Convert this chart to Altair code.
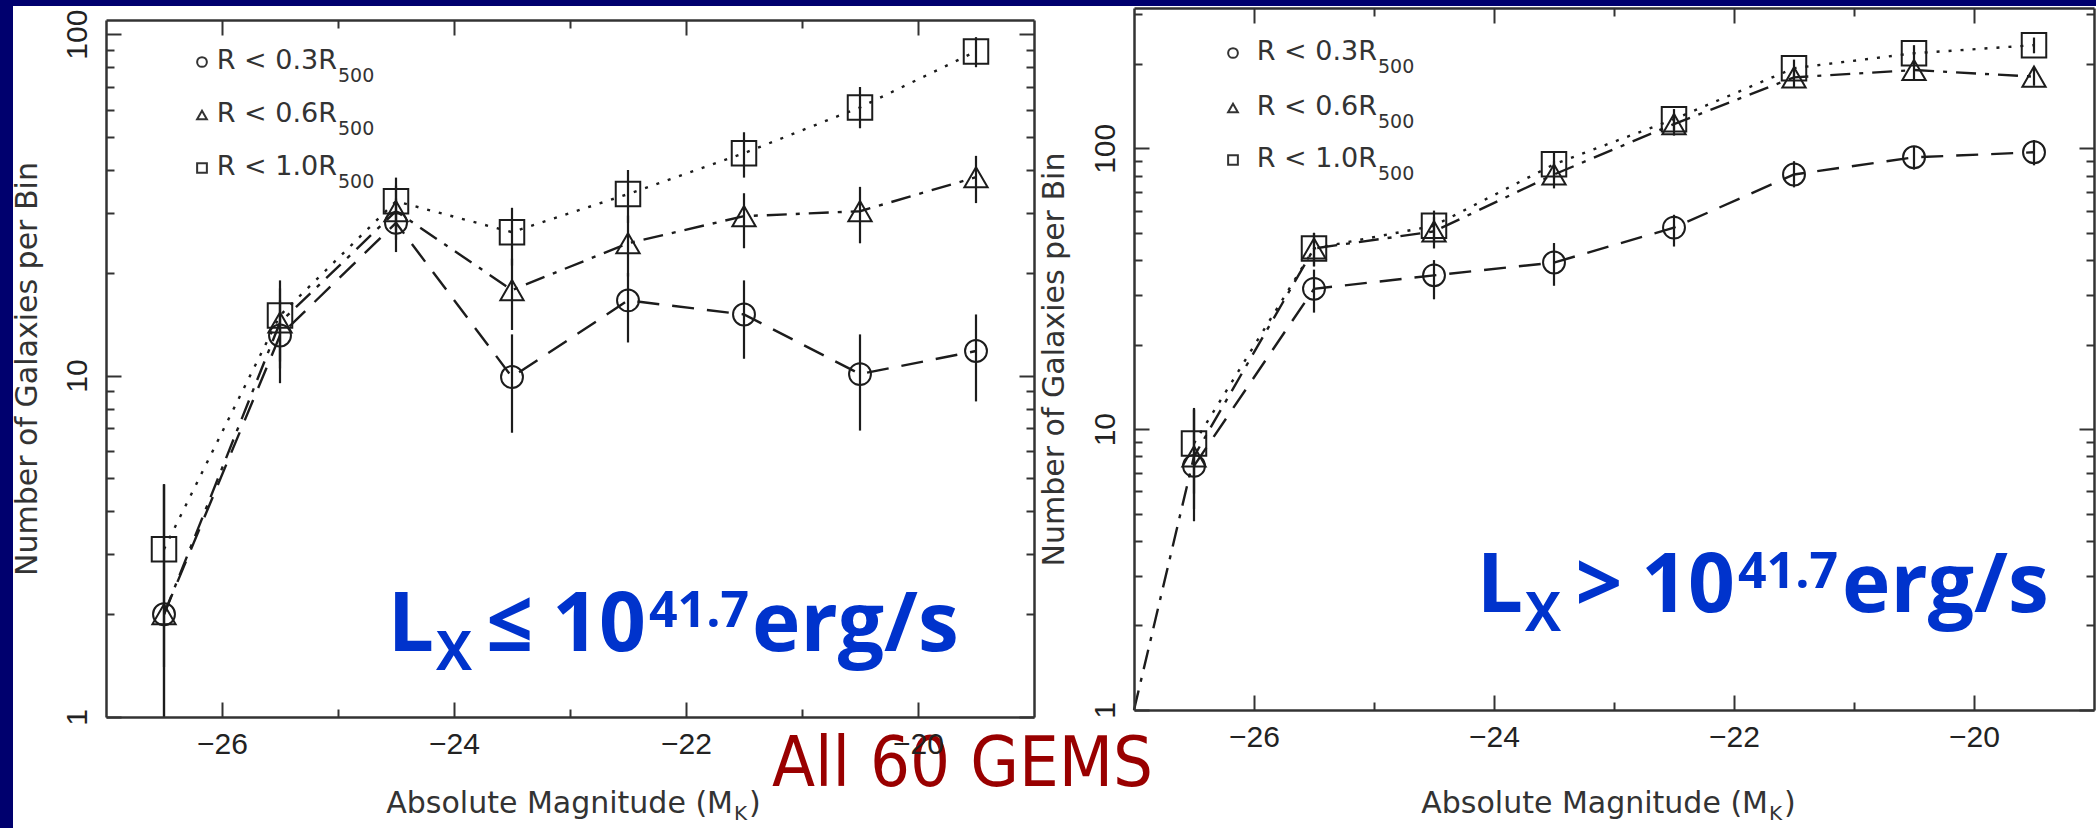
import altair as alt
import pandas as pd

# ---------------- data ----------------
MAG = [-26.5, -25.5, -24.5, -23.5, -22.5, -21.5, -20.5, -19.5]
SERIES = ["R < 0.3R500", "R < 0.6R500", "R < 1.0R500"]
LEGEND_MAIN = ["R < 0.3R", "R < 0.6R", "R < 1.0R"]
LEGEND_SUB = "500"

# Left panel : L_X <= 10^41.7 erg/s
LO_R03 = [2.0, 13.1, 28.0, 9.9, 16.6, 15.1, 10.1, 11.8]
LO_R03_MIN = [0.6, 9.5, 23.0, 6.8, 12.5, 11.2, 6.9, 8.4]
LO_R03_MAX = [4.8, 16.6, 33.0, 13.2, 20.0, 19.0, 13.2, 15.1]
LO_R06 = [2.0, 14.3, 30.3, 17.8, 24.4, 29.3, 30.3, 38.1]
LO_R06_MIN = [0.6, 10.5, 25.0, 13.6, 19.5, 23.6, 24.4, 32.0]
LO_R06_MAX = [4.8, 18.0, 36.0, 22.0, 29.4, 34.2, 35.7, 44.0]
LO_R10 = [3.1, 15.0, 32.4, 26.3, 34.0, 44.8, 61.0, 89.0]
LO_R10_MIN = [1.4, 11.0, 26.7, 21.0, 28.0, 38.0, 53.0, 80.0]
LO_R10_MAX = [4.8, 19.0, 38.0, 31.0, 40.0, 51.6, 70.0, 98.0]

# Right panel : L_X > 10^41.7 erg/s
HI_R03 = [7.4, 31.6, 35.3, 39.2, 52.2, 80.7, 92.9, 96.8]
HI_R03_MIN = [4.7, 26.0, 29.0, 32.4, 44.7, 72.6, 84.0, 87.0]
HI_R03_MAX = [11.7, 37.0, 40.0, 46.0, 58.0, 90.0, 102.0, 107.0]
HI_R06 = [8.0, 44.0, 50.6, 80.7, 122.0, 179.0, 190.0, 180.0]
HI_R06_MIN = [5.2, 38.0, 44.0, 72.0, 111.0, 165.0, 176.0, 167.0]
HI_R06_MAX = [11.8, 50.0, 57.0, 90.0, 133.0, 193.0, 204.0, 193.0]
HI_R10 = [8.9, 44.0, 53.0, 87.7, 127.0, 193.0, 218.0, 233.0]
HI_R10_MIN = [5.9, 38.0, 46.0, 78.0, 116.0, 179.0, 203.0, 218.0]
HI_R10_MAX = [11.9, 50.0, 60.0, 97.0, 138.0, 207.0, 233.0, 248.0]
# faint bin below the plotted range (only its connecting line shows)
HI_R06_EDGE_MAG = -27.5
HI_R06_EDGE_VAL = 0.04

X_MAJOR = [-26, -24, -22, -20]
X_ALL = [-26, -25, -24, -23, -22, -21, -20]
Y_MAJOR = [1, 10, 100]
Y_MINOR_L = [2, 3, 4, 5, 6, 7, 8, 9, 20, 30, 40, 50, 60, 70, 80, 90]
Y_MINOR_R = [2, 3, 4, 5, 6, 7, 8, 9, 20, 30, 40, 50, 60, 70, 80, 90, 200, 300]


def long_df(vals, los, his):
    rows = []
    for s, v, lo, hi in zip(SERIES, vals, los, his):
        for m, a, b, c in zip(MAG, v, lo, hi):
            rows.append({"mag": m, "n": a, "lo": b, "hi": c, "series": s})
    return pd.DataFrame(rows)


df_left = long_df([LO_R03, LO_R06, LO_R10],
                  [LO_R03_MIN, LO_R06_MIN, LO_R10_MIN],
                  [LO_R03_MAX, LO_R06_MAX, LO_R10_MAX])
df_right = long_df([HI_R03, HI_R06, HI_R10],
                   [HI_R03_MIN, HI_R06_MIN, HI_R10_MIN],
                   [HI_R03_MAX, HI_R06_MAX, HI_R10_MAX])
df_right = pd.concat([df_right, pd.DataFrame([{
    "mag": HI_R06_EDGE_MAG, "n": HI_R06_EDGE_VAL, "lo": None, "hi": None,
    "series": SERIES[1]}])], ignore_index=True)

# ---------------- styling ----------------
W, H = 2096, 828
NAVY = "#00006e"
FRAME = "#333333"
INK = "#1c1c1c"
AXFONT = "Liberation Sans"
TFONT = "DejaVu Sans"

dash_scale = alt.Scale(domain=SERIES, range=[[22, 13], [20, 9, 4, 9], [3, 9]])
shape_scale = alt.Scale(domain=SERIES, range=["circle", "triangle-up", "square"])
size_scale = alt.Scale(domain=SERIES, range=[480, 600, 500])


def panel(df, xr, yr, ydom, yminor, title_x):
    left, right = xr
    bottom, top = yr
    xs = alt.Scale(domain=[-27, -19], range=[left, right], nice=False, zero=False, clamp=True)
    ys = alt.Scale(type="log", domain=ydom, range=[bottom, top], nice=False, clamp=True)
    yall = sorted(Y_MAJOR + yminor)
    ytest = " || ".join(f"datum.value == {v}" for v in Y_MAJOR)
    xtick = {"condition": {"test": "datum.value % 2 == 0", "value": 15}, "value": 8}
    ytick = {"condition": {"test": ytest, "value": 15}, "value": 8}
    tick_common = dict(grid=False, labels=False, title=None, tickColor=FRAME,
                       tickWidth=2, domainColor=FRAME, domainWidth=2.5, zindex=2)

    ax_a_x = alt.Axis(orient="bottom", offset=bottom - H, values=X_MAJOR, format="d",
                      ticks=False, tickSize=0, labels=True, labelFont=AXFONT,
                      labelFontSize=30, labelColor="#222", labelPadding=12,
                      labelFlush=False, domain=True, domainColor=FRAME,
                      domainWidth=2.5, grid=False, title=None, zindex=2)
    ax_a_y = alt.Axis(orient="left", offset=-left, values=Y_MAJOR, format="d",
                      ticks=False, tickSize=0, labels=True, labelFont=AXFONT,
                      labelFontSize=30, labelColor="#222", labelAngle=270,
                      labelAlign="center", labelBaseline="middle", labelPadding=29,
                      domain=True, domainColor=FRAME, domainWidth=2.5, grid=False,
                      title="Number of Galaxies per Bin", titleFont=TFONT,
                      titleFontSize=30, titleFontWeight="normal", titleColor="#333",
                      titleAngle=270, titleAlign="center", titleBaseline="middle",
                      titleX=title_x - left, titleY=(top + bottom) / 2, zindex=2)
    ax_b_x = alt.Axis(orient="top", offset=-bottom, values=X_ALL, tickSize=xtick,
                      domain=False, **tick_common)
    ax_b_y = alt.Axis(orient="right", offset=left - W, values=yall, tickSize=ytick,
                      domain=False, **tick_common)
    ax_c_x = alt.Axis(orient="bottom", offset=top - H, values=X_ALL, tickSize=xtick,
                      domain=True, **tick_common)
    ax_c_y = alt.Axis(orient="left", offset=-right, values=yall, tickSize=ytick,
                      domain=True, **tick_common)

    base = alt.Chart(df)
    bars = base.transform_filter("datum.mag > -27").mark_rule(
        color=INK, strokeWidth=2.2).encode(
        x=alt.X("mag:Q", scale=xs, axis=ax_a_x),
        y=alt.Y("lo:Q", scale=ys, axis=ax_a_y),
        y2="hi:Q")
    lines = base.mark_line(color=INK, strokeWidth=2.4).encode(
        x=alt.X("mag:Q", scale=xs, axis=ax_b_x),
        y=alt.Y("n:Q", scale=ys, axis=ax_b_y),
        strokeDash=alt.StrokeDash("series:N", scale=dash_scale, legend=None))
    pts = base.transform_filter("datum.mag > -27").mark_point(
        filled=False, color=INK, strokeWidth=2, opacity=1).encode(
        x=alt.X("mag:Q", scale=xs, axis=ax_c_x),
        y=alt.Y("n:Q", scale=ys, axis=ax_c_y),
        shape=alt.Shape("series:N", scale=shape_scale, legend=None),
        size=alt.Size("series:N", scale=size_scale, legend=None))
    return alt.layer(bars, lines, pts).resolve_axis(x="independent", y="independent")


ONE = pd.DataFrame({"k": [0]})


def txt(text, x, y, size, color="#333", font=TFONT, weight="normal", align="left"):
    return alt.Chart(ONE).mark_text(
        text=text, align=align, baseline="alphabetic", font=font, fontSize=size,
        fontWeight=weight, color=color).encode(x=alt.value(x), y=alt.value(y))


def sym(shape, x, y):
    return alt.Chart(ONE).mark_point(
        shape=shape, size=95, filled=False, color="#333", strokeWidth=2, opacity=1
    ).encode(x=alt.value(x), y=alt.value(y))


def legend(sym_x, anchor, rows_y):
    out = []
    shapes = ["circle", "triangle-up", "square"]
    for shp, main, yc in zip(shapes, LEGEND_MAIN, rows_y):
        out.append(sym(shp, sym_x, yc))
        out.append(txt(main, anchor, yc + 7, 27, align="right"))
        out.append(txt(LEGEND_SUB, anchor + 1, yc + 20, 19))
    return out


def xtitle(anchor, base_y):
    return [txt("Absolute Magnitude (M", anchor, base_y, 30, align="right"),
            txt("K", anchor + 1, base_y + 7, 20),
            txt(")", anchor + 16, base_y, 30)]


BLUE = "#0033cc"
BFONT = "Open Sans"


def lx(rel, base, pos):
    # pos: L end, X start, relation centre, "10" end, exponent start, unit start
    return [txt("L", pos[0], base, 82, BLUE, BFONT, "bold", "right"),
            txt("X", pos[1], base + 19, 54, BLUE, BFONT, "bold"),
            txt(rel, pos[2], base, 82, BLUE, BFONT, "bold", "center"),
            txt("10", pos[3], base, 82, BLUE, BFONT, "bold", "right"),
            txt("41.7", pos[4], base - 24, 50, BLUE, BFONT, "bold"),
            txt("erg/s", pos[5], base, 82, BLUE, BFONT, "bold")]


bg = alt.Chart(ONE).mark_rect(color="white").encode(
    x=alt.value(13), x2=alt.value(W), y=alt.value(6), y2=alt.value(H))

left_panel = panel(df_left, [106, 1034], [717, 20], [1, 110], Y_MINOR_L, 27)
right_panel = panel(df_right, [1134, 2094], [710, 8], [1, 316], Y_MINOR_R, 1054)

annots = []
annots += legend(202, 337, [62, 115, 168])
annots += legend(1233, 1377, [53, 108, 160])
annots += xtitle(733, 813)
annots += xtitle(1768, 813)
annots += lx("\u2264", 651, [434, 436, 510, 646, 649, 752])
annots += lx(">", 612, [1523, 1525, 1599, 1735, 1738, 1842])
annots.append(txt("All 60 GEMS", 772, 786, 70, "#990000",
                  "Liberation Sans Narrow, DejaVu Sans Condensed, sans-serif"))

chart = alt.layer(bg, left_panel, right_panel, *annots).resolve_scale(
    x="independent", y="independent"
).properties(
    width=W, height=H, padding=0, background=NAVY,
    autosize=alt.AutoSizeParams(type="none")
).configure_view(stroke=None)

chart.save("out.html", embed_options={"renderer": "svg", "actions": False})
